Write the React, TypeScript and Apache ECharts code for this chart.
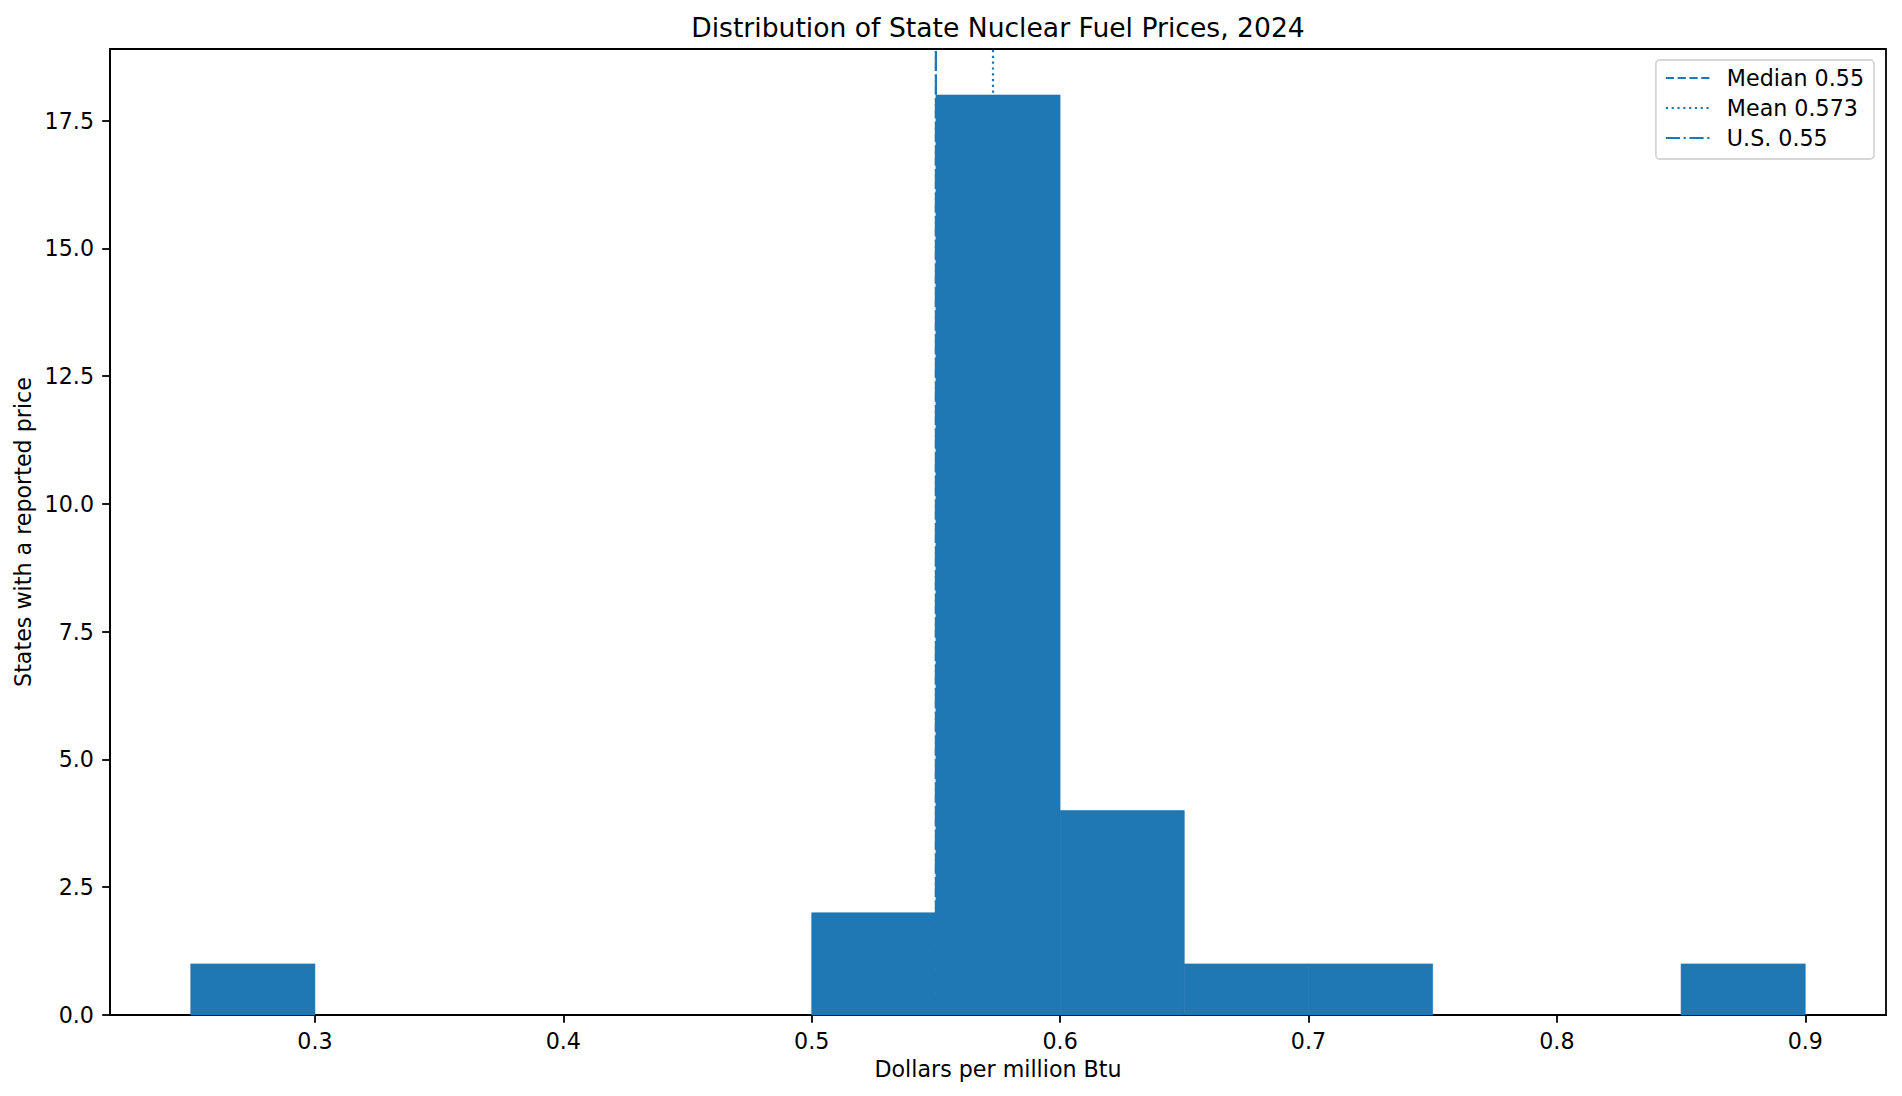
import * as echarts from "echarts";
import { useEffect, useRef } from "react";

// bins of the histogram (dollars per million Btu) and states per bin
const binEdges = [0.25, 0.3, 0.35, 0.4, 0.45, 0.5, 0.55, 0.6, 0.65, 0.7, 0.75, 0.8, 0.85, 0.9];
const binCounts = [1, 0, 0, 0, 0, 2, 18, 4, 1, 1, 0, 0, 1];

// reference lines
const refNames = ["Median", "Mean", "U.S."];
const refValues = [0.55, 0.573, 0.55];
const refLabels = ["0.55", "0.573", "0.55"];

const xTicks = [0.3, 0.4, 0.5, 0.6, 0.7, 0.8, 0.9];
const yTicks = [0, 2.5, 5, 7.5, 10, 12.5, 15, 17.5];

const BLUE = "#1f77b4";
const FONT = "DejaVu Sans";
// dashed, dotted, dash-dot (matplotlib patterns, lw 1pt at 160 dpi)
const dashes = [
  [8.2, 3.6],
  [2.2, 3.6],
  [14.2, 3.6, 2.2, 3.6],
];

const App = () => {
  const chartRef = useRef<HTMLDivElement | null>(null);

  useEffect(() => {
    document.body.style.margin = "0";
    const chart = echarts.init(chartRef.current!, null, { renderer: "svg" });

    const span = binEdges[binEdges.length - 1] - binEdges[0];
    const xMin = binEdges[0] - span * 0.05;
    const xMax = binEdges[binEdges.length - 1] + span * 0.05;
    const yMax = Math.max(...binCounts) * 1.05;

    const bars = binCounts
      .map((c, i) => [binEdges[i], binEdges[i + 1], c])
      .filter((d) => d[2] > 0);

    const lineSeries = refNames.map((name, i) => ({
      name: `${name} ${refLabels[i]}`,
      type: "line",
      data: [
        [refValues[i], 0],
        [refValues[i], yMax],
      ],
      symbol: "none",
      silent: true,
      z: 3,
      lineStyle: { color: BLUE, width: 2.2, type: dashes[i], cap: "butt" },
      itemStyle: { color: BLUE },
    }));

    const option = {
      animation: false,
      textStyle: { fontFamily: FONT },
      title: {
        text: "Distribution of State Nuclear Fuel Prices, 2024",
        left: 998,
        top: 14,
        textAlign: "center",
        padding: 0,
        textStyle: { fontFamily: FONT, fontSize: 26.6, fontWeight: "normal", color: "#000" },
      },
      legend: {
        orient: "vertical",
        right: 28,
        top: 60,
        data: lineSeries.map((s) => s.name),
        itemWidth: 44,
        itemHeight: 14,
        itemGap: 8,
        padding: [7, 10, 10, 9],
        backgroundColor: "rgba(255,255,255,0.8)",
        borderColor: "#d6d6d6",
        borderWidth: 1.8,
        borderRadius: 4,
        selectedMode: false,
        itemStyle: { opacity: 0 },
        textStyle: {
          fontFamily: FONT,
          fontSize: 22.2,
          lineHeight: 22,
          color: "#000",
          padding: [0, 0, 0, 12],
        },
      },
      grid: {
        left: 110,
        right: 16,
        top: 49,
        bottom: 81,
        show: true,
        borderColor: "#000",
        borderWidth: 1.8,
        backgroundColor: "transparent",
      },
      xAxis: {
        type: "value",
        min: xMin,
        max: xMax,
        name: "Dollars per million Btu",
        nameLocation: "middle",
        nameGap: 43,
        nameTextStyle: { fontFamily: FONT, fontSize: 22.2, color: "#000" },
        axisLine: { show: true, onZero: false, lineStyle: { color: "#000", width: 1.8 } },
        axisTick: { show: true, length: 7.8, customValues: xTicks, lineStyle: { color: "#000", width: 1.8 } },
        axisLabel: {
          customValues: xTicks,
          margin: 15,
          fontFamily: FONT,
          fontSize: 22.2,
          color: "#000",
          formatter: (v: number) => v.toFixed(1),
        },
        splitLine: { show: false },
      },
      yAxis: {
        type: "value",
        min: 0,
        max: yMax,
        name: "States with a reported price",
        nameLocation: "middle",
        nameGap: 76,
        nameTextStyle: { fontFamily: FONT, fontSize: 22.2, color: "#000" },
        axisLine: { show: true, onZero: false, lineStyle: { color: "#000", width: 1.8 } },
        axisTick: { show: true, length: 7.8, customValues: yTicks, lineStyle: { color: "#000", width: 1.8 } },
        axisLabel: {
          customValues: yTicks,
          margin: 16,
          fontFamily: FONT,
          fontSize: 22.2,
          color: "#000",
          formatter: (v: number) => v.toFixed(1),
        },
        splitLine: { show: false },
      },
      series: [
        {
          name: "counts",
          type: "custom",
          data: bars,
          encode: { x: [0, 1], y: 2 },
          z: 2,
          silent: true,
          renderItem: (_params: any, api: any) => {
            const p0 = api.coord([api.value(0), api.value(2)]);
            const p1 = api.coord([api.value(1), 0]);
            return {
              type: "rect",
              shape: { x: p0[0], y: p0[1], width: p1[0] - p0[0], height: p1[1] - p0[1] },
              style: { fill: BLUE, stroke: BLUE, lineWidth: 0.6 },
            };
          },
        },
        ...lineSeries,
      ],
    };

    chart.setOption(option as any);

    return () => {
      chart.dispose();
    };
  }, []);

  return <div ref={chartRef} style={{ width: "1902px", height: "1096px" }} />;
};

export default App;
